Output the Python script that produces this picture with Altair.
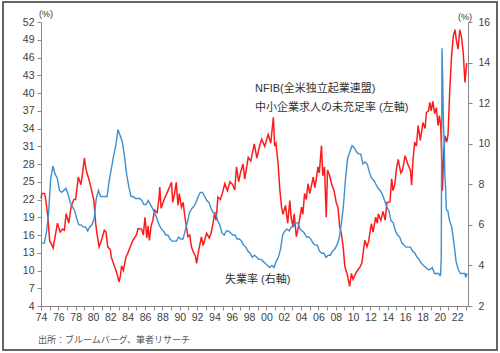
import altair as alt
import pandas as pd

# NFIB: share of small businesses with unfilled job openings (left axis, %)
red_t = [1974.0, 1974.1, 1974.4, 1974.5, 1974.8, 1975.0, 1975.2, 1975.4, 1975.6, 1975.9,
         1976.2, 1976.5, 1976.7, 1976.9, 1977.2, 1977.5, 1977.8, 1978.0, 1978.3, 1978.6,
         1978.8, 1979.0, 1979.2, 1979.4, 1979.6, 1979.8, 1980.1, 1980.3, 1980.45, 1980.7,
         1980.95, 1981.3, 1981.5, 1981.7, 1982.0, 1982.1, 1982.4, 1982.65, 1982.85, 1983.0,
         1983.15, 1983.3, 1983.5, 1983.8, 1984.0, 1984.3, 1984.6, 1985.0, 1985.2, 1985.6,
         1985.8, 1986.0, 1986.2, 1986.35, 1986.5, 1986.7, 1986.9, 1987.1, 1987.4, 1987.6,
         1987.7, 1987.85, 1988.2, 1988.5, 1988.8, 1989.05, 1989.2, 1989.4, 1989.6, 1989.8,
         1989.95, 1990.2, 1990.4, 1990.6, 1990.95, 1991.15, 1991.35, 1991.6, 1991.8, 1991.95,
         1992.2, 1992.5, 1992.7, 1993.1, 1993.4, 1993.6, 1993.85, 1994.0, 1994.2, 1994.4,
         1994.7, 1995.0, 1995.2, 1995.5, 1995.8, 1996.1, 1996.35, 1996.55, 1996.8, 1997.0,
         1997.3, 1997.5, 1997.9, 1998.2, 1998.6, 1998.9, 1999.2, 1999.45, 1999.8, 2000.2,
         2000.5, 2000.8, 2000.95, 2001.1, 2001.35, 2001.55, 2001.75, 2001.9, 2002.2, 2002.45,
         2002.7, 2002.85, 2003.05, 2003.2, 2003.45, 2003.7, 2004.05, 2004.2, 2004.4, 2004.6,
         2004.8, 2005.0, 2005.4, 2005.6, 2005.95, 2006.1, 2006.35, 2006.5, 2006.7, 2006.9,
         2007.05, 2007.3, 2007.5, 2007.8, 2008.05, 2008.25, 2008.45, 2008.65, 2008.85, 2009.05,
         2009.3, 2009.6, 2009.8, 2010.0, 2010.3, 2010.5, 2010.8, 2011.0, 2011.15, 2011.35,
         2011.6, 2011.8, 2012.1, 2012.3, 2012.6, 2012.8, 2012.9, 2013.2, 2013.45, 2013.7,
         2013.9, 2014.25, 2014.45, 2014.6, 2014.8, 2015.0, 2015.2, 2015.5, 2015.7, 2016.0,
         2016.3, 2016.6, 2016.75, 2016.9, 2017.1, 2017.3, 2017.5, 2017.75, 2018.05, 2018.3,
         2018.45, 2018.7, 2018.85, 2019.0, 2019.2, 2019.4, 2019.6, 2019.8, 2019.95, 2020.1,
         2020.2, 2020.3, 2020.45, 2020.6, 2020.8, 2020.95, 2021.15, 2021.35, 2021.55, 2021.75,
         2021.9, 2022.1, 2022.3, 2022.5, 2022.7, 2022.9, 2023.1]
red_v = [22.2, 23, 23, 22.5, 19, 15, 14.5, 13.8, 15.5, 18,
         16.5, 17, 16.8, 19.6, 18, 21, 22, 22, 25.8, 24.5,
         26.5, 29, 27, 26, 25, 23.8, 21.8, 18, 16.3, 14,
         15, 16.8, 16.5, 14, 13.5, 12.3, 11, 10, 9, 8.1,
         9, 10.8, 10, 12.3, 12.9, 14, 15.1, 16, 17.1, 17,
         16, 19, 15.5, 17.5, 15.1, 17.5, 18.5, 20.2, 19.8, 22,
         24.1, 20.5, 22, 23, 24, 24.9, 21.5, 23, 24.9, 21,
         23, 20.7, 21.5, 19, 15.7, 16, 14, 13, 12.5, 11.2,
         13.5, 15.7, 14.2, 16.3, 15.5, 16.2, 18, 19.6, 18.5, 22.4,
         22, 23.5, 24.7, 23.5, 25, 24.5, 23.6, 27.5, 25, 26.5,
         28, 25.5, 29.1, 28.5, 31.4, 29, 31, 32.2, 31, 33,
         31.5, 35.9, 31, 31.5, 28, 23.6, 20.7, 19.5, 21, 18,
         21.8, 19, 17.4, 19.6, 15.7, 17.5, 20.7, 19.5, 23, 22,
         24.7, 23, 25.8, 24, 27.5, 26.5, 31.1, 26, 27.5, 19,
         27, 26, 24.7, 23.5, 21.5, 20.7, 17.4, 16.2, 14, 10.6,
         9.5, 7.3, 9.5, 8.5, 9.5, 10, 10.6, 11.2, 12.9, 15.1,
         14, 15, 17.9, 16.5, 19, 18, 19.6, 18.5, 20, 18.5,
         21.5, 21.6, 25.5, 23.5, 24.5, 27.2, 28.8, 26.5, 27, 29.4,
         28, 27, 24.4, 28.5, 31.7, 31, 34.5, 32, 35, 34,
         36.7, 37, 38.4, 37, 38.6, 36.5, 37.5, 34.5, 36.2, 34.5,
         30, 23.5, 30, 32.8, 31.7, 33, 40.6, 46.2, 49.6, 50.7,
         49, 47.4, 50.7, 49.5, 46.8, 41.8, 45.1]

# US unemployment rate (right axis, %)
blue_t = [1974.0, 1974.375, 1974.625, 1974.875,
          1975.125, 1975.375, 1975.625, 1975.875,
          1976.125, 1976.375, 1976.625, 1976.875,
          1977.125, 1977.375, 1977.625, 1977.875,
          1978.125, 1978.375, 1978.625, 1978.875,
          1979.125, 1979.375, 1979.625, 1979.875,
          1980.125, 1980.375, 1980.625, 1980.875,
          1981.125, 1981.375, 1981.625, 1981.875,
          1982.125, 1982.375, 1982.625, 1982.875,
          1983.125, 1983.375, 1983.625, 1983.875,
          1984.125, 1984.375, 1984.625, 1984.875,
          1985.125, 1985.375, 1985.625, 1985.875,
          1986.125, 1986.375, 1986.625, 1986.875,
          1987.125, 1987.375, 1987.625, 1987.875,
          1988.125, 1988.375, 1988.625, 1988.875,
          1989.125, 1989.375, 1989.625, 1989.875,
          1990.125, 1990.375, 1990.625, 1990.875,
          1991.125, 1991.375, 1991.625, 1991.875,
          1992.125, 1992.375, 1992.625, 1992.875,
          1993.125, 1993.375, 1993.625, 1993.875,
          1994.125, 1994.375, 1994.625, 1994.875,
          1995.125, 1995.375, 1995.625, 1995.875,
          1996.125, 1996.375, 1996.625, 1996.875,
          1997.125, 1997.375, 1997.625, 1997.875,
          1998.125, 1998.375, 1998.625, 1998.875,
          1999.125, 1999.375, 1999.625, 1999.875,
          2000.125, 2000.375, 2000.625, 2000.875,
          2001.125, 2001.375, 2001.625, 2001.875,
          2002.125, 2002.375, 2002.625, 2002.875,
          2003.125, 2003.375, 2003.625, 2003.875,
          2004.125, 2004.375, 2004.625, 2004.875,
          2005.125, 2005.375, 2005.625, 2005.875,
          2006.125, 2006.375, 2006.625, 2006.875,
          2007.125, 2007.375, 2007.625, 2007.875,
          2008.125, 2008.375, 2008.625, 2008.875,
          2009.125, 2009.375, 2009.625, 2009.875,
          2010.125, 2010.375, 2010.625, 2010.875,
          2011.125, 2011.375, 2011.625, 2011.875,
          2012.125, 2012.375, 2012.625, 2012.875,
          2013.125, 2013.375, 2013.625, 2013.875,
          2014.125, 2014.375, 2014.625, 2014.875,
          2015.125, 2015.375, 2015.625, 2015.875,
          2016.125, 2016.375, 2016.625, 2016.875,
          2017.125, 2017.375, 2017.625, 2017.875,
          2018.125, 2018.375, 2018.625, 2018.875,
          2019.125, 2019.375, 2019.625, 2019.875,
          2020.0, 2020.083, 2020.167, 2020.25, 2020.333, 2020.417,
          2020.5, 2020.583, 2020.667, 2020.75, 2020.833, 2020.917,
          2021.125, 2021.375, 2021.625, 2021.875,
          2022.125, 2022.375, 2022.625, 2022.875,
          2023.0, 2023.08, 2023.15]
blue_v = [5.1, 5.1, 5.6, 6.6,
          8.3, 8.9, 8.5, 8.3,
          7.7, 7.6, 7.7, 7.8,
          7.5, 7.1, 6.9, 6.7,
          6.3, 6.0, 6.0, 5.9,
          5.9, 5.7, 5.9, 6.0,
          6.3, 7.3, 7.7, 7.4,
          7.4, 7.4, 7.4, 8.2,
          8.8, 9.4, 9.9, 10.7,
          10.4, 10.1, 9.4, 8.5,
          7.9, 7.4, 7.4, 7.3,
          7.3, 7.3, 7.2, 7.0,
          7.0, 7.2, 7.0, 6.8,
          6.6, 6.3, 6.0, 5.8,
          5.7, 5.5, 5.5, 5.3,
          5.2, 5.2, 5.2, 5.4,
          5.3, 5.3, 5.7, 6.1,
          6.6, 6.8, 6.9, 7.1,
          7.4, 7.6, 7.6, 7.4,
          7.2, 7.1, 6.8, 6.6,
          6.6, 6.2, 6.0, 5.6,
          5.5, 5.7, 5.7, 5.6,
          5.5, 5.5, 5.3, 5.3,
          5.2, 5.0, 4.9, 4.7,
          4.6, 4.4, 4.5, 4.4,
          4.3, 4.3, 4.2, 4.1,
          4.0, 3.9, 4.0, 3.9,
          4.2, 4.4, 4.8, 5.5,
          5.7, 5.8, 5.7, 5.9,
          5.9, 6.1, 6.1, 5.8,
          5.7, 5.6, 5.4, 5.4,
          5.3, 5.1, 5.0, 5.0,
          4.7, 4.6, 4.6, 4.4,
          4.5, 4.5, 4.7, 4.8,
          5.0, 5.3, 6.0, 6.9,
          8.3, 9.3, 9.6, 9.9,
          9.8, 9.6, 9.5, 9.5,
          9.0, 9.1, 9.0, 8.6,
          8.3, 8.2, 8.0, 7.8,
          7.7, 7.5, 7.2, 6.9,
          6.7, 6.2, 6.1, 5.7,
          5.5, 5.4, 5.1, 5.0,
          4.9, 4.9, 4.9, 4.7,
          4.6, 4.4, 4.3, 4.1,
          4.0, 3.9, 3.8, 3.8,
          3.9, 3.6, 3.6, 3.6,
          3.5, 3.5, 4.4, 14.7, 13.2, 11.0,
          10.2, 8.4, 7.8, 6.8, 6.7, 6.7,
          6.2, 5.9, 5.1, 4.2,
          3.8, 3.6, 3.6, 3.6,
          3.4, 3.6, 3.5]

x_ticks = list(range(1974, 2024))
left_ticks = list(range(4, 53, 3))
right_ticks = list(range(2, 17, 2))

red_df = pd.DataFrame({"year": red_t, "value": red_v})
blue_df = pd.DataFrame({"year": blue_t, "value": blue_v})

FONT = "Liberation Sans, Noto Sans CJK JP"
GREY = "#888888"
LABEL = "#404040"

x_enc = alt.X(
    "year:Q",
    scale=alt.Scale(domain=[1974, 2023.25], nice=False, zero=False),
    axis=alt.Axis(
        values=x_ticks, title=None, grid=False, labelOverlap=False, labelFlush=False,
        labelExpr="datum.value % 2 == 0 ? format(datum.value % 100, '02d') : ''",
        tickSize=4, labelPadding=2, labelFontSize=10.5, labelColor=LABEL,
        domainColor=GREY, tickColor=GREY, labelFont=FONT,
    ),
)

red = alt.Chart(red_df).mark_line(color="#ff1a1a", strokeWidth=1.5).encode(
    x=x_enc,
    y=alt.Y(
        "value:Q",
        scale=alt.Scale(domain=[4, 52], nice=False, zero=False),
        axis=alt.Axis(
            values=left_ticks, title=None, grid=False, orient="left", labelFlush=False,
            tickSize=4, labelPadding=3, labelFontSize=10.5, labelColor=LABEL,
            domainColor=GREY, tickColor=GREY, labelFont=FONT,
        ),
    ),
)

blue = alt.Chart(blue_df).mark_line(color="#3d8fd1", strokeWidth=1.4).encode(
    x=x_enc,
    y=alt.Y(
        "value:Q",
        scale=alt.Scale(domain=[2, 16], nice=False, zero=False),
        axis=alt.Axis(
            values=right_ticks, title=None, grid=False, orient="right", labelFlush=False,
            tickSize=4, labelPadding=6, labelFontSize=10.5, labelColor=LABEL,
            domainColor=GREY, tickColor=GREY, labelFont=FONT,
        ),
    ),
)

one = alt.Data(values=[{}])

border = alt.Chart(one).mark_rect(filled=False, stroke="#333333", strokeWidth=1.5).encode(
    x=alt.value(-38), x2=alt.value(456), y=alt.value(-20), y2=alt.value(328)
)


def label(txt, x, y, size=11, color="#333333", align="left"):
    return alt.Chart(one).mark_text(
        align=align, baseline="middle", fontSize=size, color=color, font=FONT
    ).encode(x=alt.value(x), y=alt.value(y), text=alt.value(txt))


texts = [
    label("(%)", -2, -8, size=9),
    label("(%)", 417, -5, size=9),
    label("NFIB(全米独立起業連盟)", 214, 67),
    label("中小企業求人の未充足率 (左軸)", 214, 86),
    label("失業率 (右軸)", 184, 258),
    label("出所：ブルームバーグ、筆者リサーチ", -3, 318, size=9, color="#555555"),
]

chart = alt.layer(red, blue, border, *texts).resolve_scale(y="independent").properties(
    width=427, height=284,
    autosize=alt.AutoSizeParams(type="none"),
    padding={"left": 41, "top": 22, "right": 32, "bottom": 47},
).configure_view(stroke=None)

chart.save("out.html", embed_options={"renderer": "svg", "actions": False})
